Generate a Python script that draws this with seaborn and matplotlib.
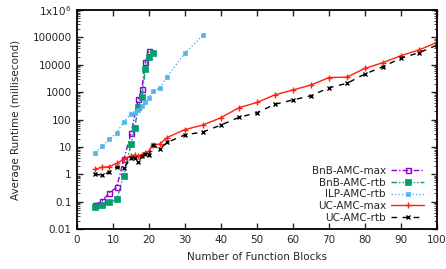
import matplotlib
matplotlib.use("Agg")
import matplotlib.pyplot as plt
import seaborn as sns
import pandas as pd
from matplotlib.ticker import FixedLocator, LogLocator, NullFormatter

# ---- data ----
bnb_max_x = [5, 7, 9, 11, 13, 15, 17, 18, 19, 20]
bnb_max_y = [0.078, 0.105, 0.21, 0.33, 3.5, 31, 550, 1250, 12500, 31000]

bnb_rtb_x = [5, 7, 9, 11, 13, 15, 16, 17, 18, 19, 20, 21]
bnb_rtb_y = [0.063, 0.076, 0.095, 0.12, 0.87, 12.8, 47, 290, 660, 6900, 18600, 27000]

ilp_rtb_x = [5, 7, 9, 11, 13, 15, 16, 17, 18, 19, 20, 21, 23, 25, 30, 35]
ilp_rtb_y = [6.2, 10.5, 19, 32, 83, 160, 170, 230, 320, 450, 600, 1080, 1400, 3600, 27000, 120000]

uc_max_x = [5, 7, 9, 11, 13, 15, 16, 17, 18, 19, 20, 21, 23, 25, 30, 35, 40, 45, 50,
            55, 60, 65, 70, 75, 80, 85, 90, 95, 100]
uc_max_y = [1.55, 1.8, 1.9, 2.5, 3.5, 4.7, 5.0, 4.7, 5.0, 6.0, 7.0, 12, 12.6, 22, 43, 63,
            117, 270, 420, 800, 1200, 1830, 3400, 3550, 7400, 12000, 21500, 35000, 65000]

uc_rtb_x = [5, 7, 9, 11, 13, 15, 16, 17, 18, 19, 20, 21, 23, 25, 30, 35, 40, 45, 50,
            55, 60, 65, 70, 75, 80, 85, 90, 95, 100]
uc_rtb_y = [1.0, 0.93, 1.2, 1.9, 1.7, 3.9, 4.0, 2.8, 4.5, 5.5, 5.0, 11.5, 8.5, 14.5, 27.5, 35,
            63, 120, 178, 360, 520, 740, 1450, 2100, 4600, 8500, 17500, 27500, 52000]

series_names = ["BnB-AMC-max", "BnB-AMC-rtb", "ILP-AMC-rtb", "UC-AMC-max", "UC-AMC-rtb"]
x_ticks = [0, 10, 20, 30, 40, 50, 60, 70, 80, 90, 100]
y_ticks = [0.01, 0.1, 1, 10, 100, 1000, 10000, 100000, 1000000]
y_tick_labels = ["0.01", "0.1", "1", "10", "100", "1000", "10000", "100000", "1x10$^6$"]

x_label = "Number of Function Blocks"
y_label = "Average Runtime (millisecond)"

# ---- figure ----
sns.set_style("ticks")
plt.rcParams["font.family"] = ["DejaVu Sans"]
plt.rcParams["mathtext.default"] = "regular"

fig = plt.figure(figsize=(4.46, 2.69), dpi=100)
ax = fig.add_axes([77 / 446, 1 - 229 / 269, 360 / 446, 219 / 269])

styles = [
    dict(color="#9400D3", linestyle=(0, (4, 1.5, 1, 1.5)), marker="s", markerfacecolor="none",
         markeredgecolor="#9400D3", markersize=3.6, markeredgewidth=1),
    dict(color="#009E73", linestyle=(0, (4, 1.5, 1, 1.5, 1, 1.5)), marker="s",
         markerfacecolor="#009E73", markeredgecolor="#009E73", markersize=3.8,
         markeredgewidth=0.5),
    dict(color="#56B4E9", linestyle=(0, (1, 1.5)), marker="s",
         markerfacecolor="#56B4E9", markeredgecolor="#56B4E9", markersize=3.0,
         markeredgewidth=0.5),
    dict(color="#FF2010", linestyle="-", marker="+", markersize=4.5,
         markeredgecolor="#FF2010", markeredgewidth=1),
    dict(color="black", linestyle=(0, (4, 4)), marker="x", markersize=3.5,
         markeredgecolor="black", markeredgewidth=1),
]
data = [(bnb_max_x, bnb_max_y), (bnb_rtb_x, bnb_rtb_y), (ilp_rtb_x, ilp_rtb_y),
        (uc_max_x, uc_max_y), (uc_rtb_x, uc_rtb_y)]

for name, (xs, ys), st in zip(series_names, data, styles):
    df = pd.DataFrame({"x": xs, "y": ys})
    sns.lineplot(data=df, x="x", y="y", ax=ax, label=name, linewidth=1, **st)

ax.set_yscale("log")
ax.set_xlim(0, 100)
ax.set_ylim(0.01, 1e6)
ax.xaxis.set_major_locator(FixedLocator(x_ticks))
ax.set_xticklabels([str(t) for t in x_ticks])
ax.yaxis.set_major_locator(FixedLocator(y_ticks))
ax.set_yticklabels(y_tick_labels)
ax.yaxis.set_minor_locator(LogLocator(base=10, subs=range(2, 10), numticks=20))
ax.yaxis.set_minor_formatter(NullFormatter())

ax.tick_params(axis="both", which="major", direction="in", length=4, width=1,
               top=True, right=True, labelsize=7.5, pad=4)
ax.tick_params(axis="y", which="minor", direction="in", length=2, width=0.6,
               left=True, right=True)
for sp in ax.spines.values():
    sp.set_linewidth(1.3)
    sp.set_color("black")

ax.set_xlabel(x_label, fontsize=7.5, labelpad=5)
ax.set_ylabel(y_label, fontsize=7.5, labelpad=8)

leg = ax.legend(loc="lower right", bbox_to_anchor=(0.985, -0.005), markerfirst=False,
                frameon=False, fontsize=7.5, handlelength=3.2, labelspacing=0.16,
                borderpad=0.2, handletextpad=0.5)
for t in leg.get_texts():
    t.set_ha("right")

fig.savefig("out.png", dpi=100)
